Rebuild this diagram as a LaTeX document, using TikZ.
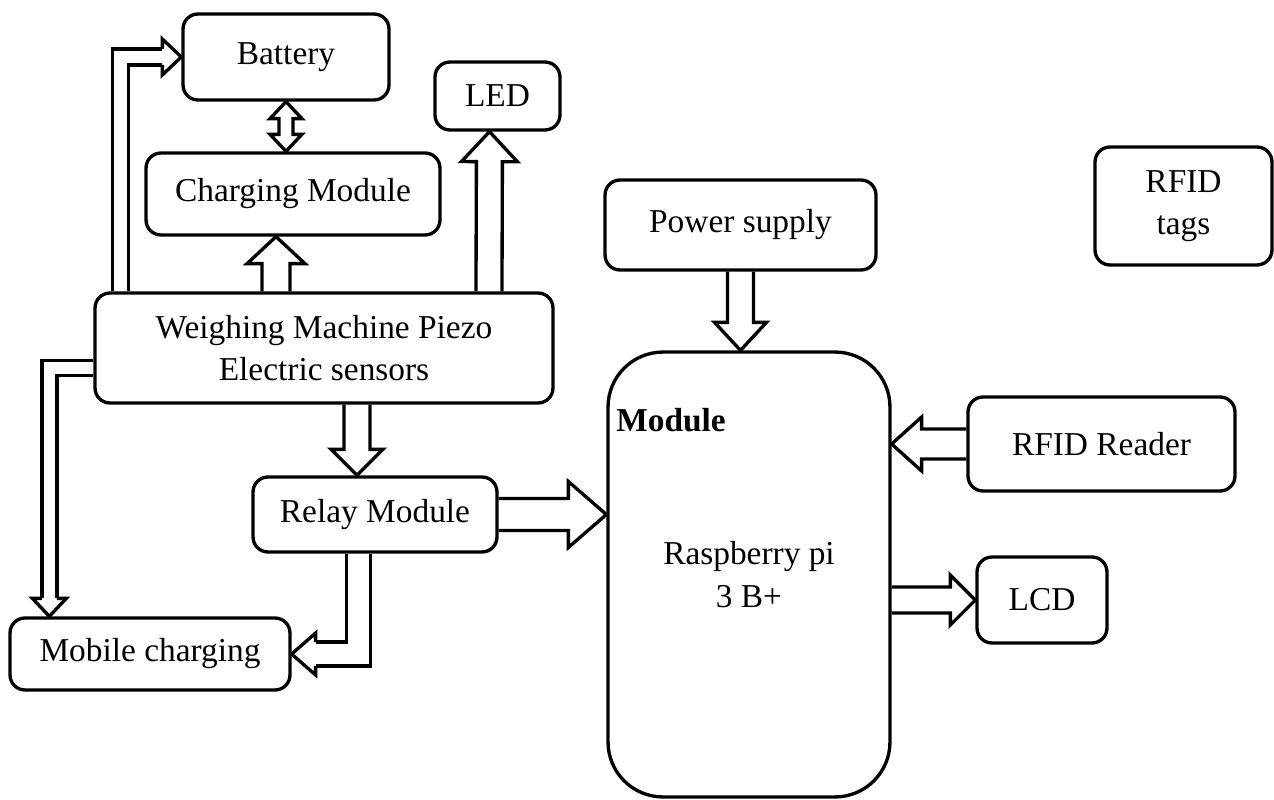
\documentclass[tikz,border=0pt]{standalone}
\usepackage{fontspec}
\setmainfont{Liberation Serif}
\usetikzlibrary{calc, backgrounds}

\newcommand{\mainsize}{\fontsize{19}{24}\selectfont}

\tikzset{
  box/.style={draw, line width=1.9pt, rounded corners=0.3cm, align=center,
    font=\mainsize, inner sep=0pt},
  pipe/.style={draw, line width=1.9pt, double, double distance=#1},
  fatarrow/.style args={#1/#2/#3}{draw, line width=1.9pt, fill=white,
    to path={
      ($(\tikztostart)!#1!90:(\tikztotarget)$)
      -- ($(\tikztotarget)!#3!(\tikztostart)!#1!90:(\tikztotarget)$)
      -- ($(\tikztotarget)!#3!(\tikztostart)!#2!90:(\tikztotarget)$)
      -- (\tikztotarget)
      -- ($(\tikztotarget)!#3!(\tikztostart)!#2!-90:(\tikztotarget)$)
      -- ($(\tikztotarget)!#3!(\tikztostart)!#1!-90:(\tikztotarget)$)
      -- ($(\tikztostart)!#1!-90:(\tikztotarget)$)}},
  twoway/.style args={#1/#2/#3}{draw, line width=1.9pt, fill=white,
    to path={
      (\tikztostart)
      -- ($(\tikztostart)!#3!(\tikztotarget)!#2!90:(\tikztotarget)$)
      -- ($(\tikztostart)!#3!(\tikztotarget)!#1!90:(\tikztotarget)$)
      -- ($(\tikztotarget)!#3!(\tikztostart)!#1!-90:(\tikztostart)$)
      -- ($(\tikztotarget)!#3!(\tikztostart)!#2!-90:(\tikztostart)$)
      -- (\tikztotarget)
      -- ($(\tikztotarget)!#3!(\tikztostart)!#2!90:(\tikztostart)$)
      -- ($(\tikztotarget)!#3!(\tikztostart)!#1!90:(\tikztostart)$)
      -- ($(\tikztostart)!#3!(\tikztotarget)!#1!-90:(\tikztotarget)$)
      -- ($(\tikztostart)!#3!(\tikztotarget)!#2!-90:(\tikztotarget)$)
      -- cycle}}
}

\begin{document}
\begin{tikzpicture}[x=0.02cm, y=-0.02cm]
  \useasboundingbox (0,0) rectangle (1274,800);
  \foreach \name/\x/\y/\w/\h/\txt in {
    batt/286/57/4.12/1.72/Battery,
    led/497.5/96/2.5/1.36/LED,
    charge/293/194/5.88/1.64/Charging Module,
    weigh/324/348/9.16/2.2/{Weighing Machine Piezo\\Electric sensors},
    relay/375/514.5/4.88/1.5/Relay Module,
    mobile/150/654/5.6/1.44/Mobile charging,
    power/740.5/225/5.42/1.8/Power supply,
    tags/1183.5/206/3.54/2.36/{RFID\\tags},
    reader/1101.5/444/5.34/1.88/RFID Reader,
    lcd/1042/600/2.6/1.72/LCD}
  {
    \node[box, minimum width=\w cm, minimum height=\h cm] (\name) at (\x,\y) {\txt};
  }
  \node[box, rounded corners=1.1cm, minimum width=5.64cm, minimum height=8.9cm]
    (rpi) at (749,574.5) {Raspberry pi\\3 B+};
  \node[font=\mainsize\bfseries, anchor=west, inner sep=0pt] (modtitle) at (616,420) {Module};

  \coordinate (bh) at ([xshift=-0.38cm]batt.west);
  \coordinate (mh) at ([xshift=0.82cm, yshift=0.36cm]mobile.north west);
  \coordinate (mt) at ([xshift=0.82cm]mobile.north west);
  \coordinate (rh) at ([xshift=0.48cm]mobile.east);

  \begin{scope}[on background layer]
    \draw[fatarrow=0.28cm/0.58cm/0.54cm] ([xshift=-0.96cm]weigh.north) to ([xshift=-0.34cm]charge.south);
    \draw[twoway=0.14cm/0.32cm/0.34cm] (batt.south) to (batt.south |- charge.north);
    \draw[fatarrow=0.26cm/0.56cm/0.6cm] ([xshift=3.3cm]weigh.north) to ([xshift=-0.16cm]led.south);
    \draw[fatarrow=0.26cm/0.52cm/0.52cm] ([xshift=0.66cm]weigh.south) to ([xshift=-0.36cm]relay.north);
    \draw[fatarrow=0.32cm/0.66cm/0.76cm] (relay.east) to (rpi.west |- relay.east);
    \draw[fatarrow=0.26cm/0.52cm/0.56cm] (power.south) to (power.south |- rpi.north);
    \draw[fatarrow=0.3cm/0.54cm/0.6cm] (reader.west) to (rpi.east |- reader.west);
    \draw[fatarrow=0.26cm/0.5cm/0.5cm] (rpi.east |- lcd.west) to (lcd.west);

    \draw[pipe=0.253cm] ([xshift=0.54cm]weigh.north west) |- (bh);
    \draw[fatarrow=0.16cm/0.36cm/0.38cm] (bh) to (batt.west);
    \draw[pipe=0.233cm] ([yshift=-0.4cm]weigh.west) -| (mh);
    \draw[fatarrow=0.15cm/0.34cm/0.36cm] (mh) to (mt);
    \draw[pipe=0.413cm] ([xshift=2.14cm]relay.south west) |- (rh);
    \draw[fatarrow=0.24cm/0.42cm/0.48cm] (rh) to (mobile.east);
  \end{scope}
\end{tikzpicture}
\end{document}
